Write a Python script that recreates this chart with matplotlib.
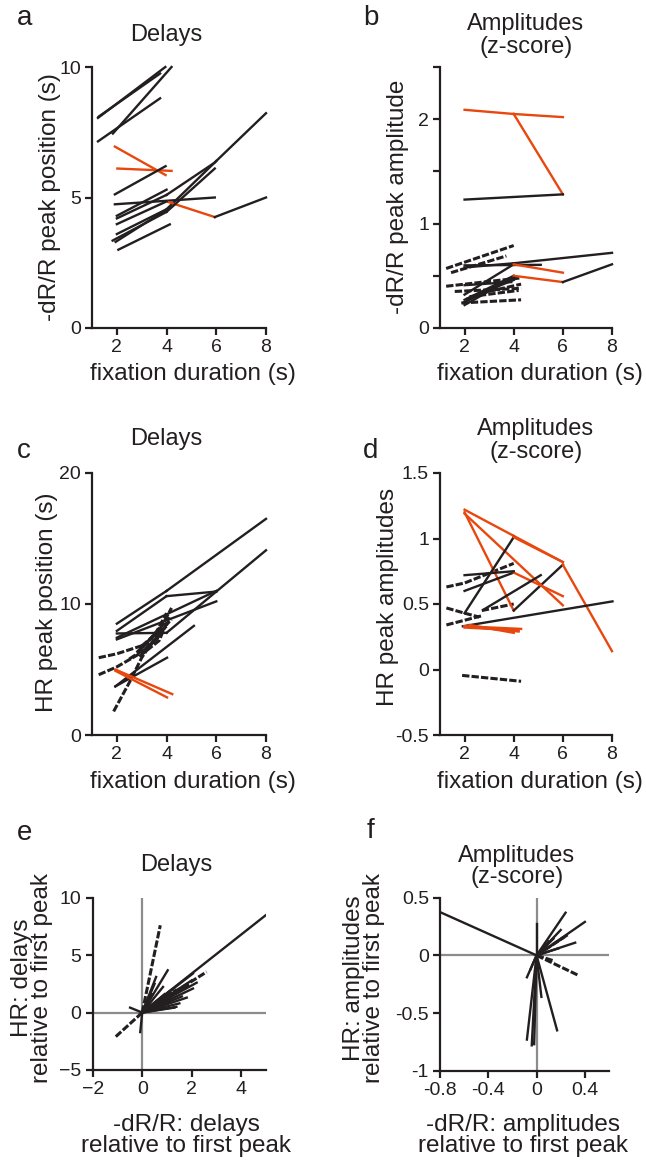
"""
Peak delays / amplitudes vs fixation duration, panels a-f
"""
import matplotlib

matplotlib.use("Agg")
import matplotlib.pyplot as plt

plt.rcParams["font.family"] = ["Liberation Sans", "DejaVu Sans"]

BLACK = "#231f20"
ORANGE = "#e8470e"
GREY = "#8c8c8c"

# ---- data ----
# panel a: -dR/R peak position per subject (x = fixation duration)
A_LINES = [
    ([1.27, 3.74], [8.10, 9.75]),
    ([1.24, 3.95], [8.05, 10.0]),
    ([1.24, 3.74], [7.15, 8.80]),
    ([1.84, 4.20], [7.45, 10.0]),
    ([1.92, 3.96], [6.95, 5.86]),
    ([2.02, 4.20], [6.11, 6.02]),
    ([1.92, 3.96], [5.12, 6.20]),
    ([1.92, 5.94], [4.74, 5.00]),
    ([2.0, 4.0, 5.94], [4.20, 5.10, 6.34]),
    ([2.0, 4.0, 6.0, 8.0], [3.60, 4.55, 6.40, 8.23]),
    ([4.06, 5.94, 8.0], [4.83, 4.25, 5.00]),
    ([2.06, 4.13], [3.00, 3.97]),
    ([1.83, 4.0, 5.94], [3.35, 4.45, 6.11]),
    ([2.0, 4.0], [3.98, 4.85]),
    ([2.0, 4.0], [4.30, 5.30]),
    ([1.95, 4.1], [3.30, 4.60]),
]
A_DASHED = []

# panel b: -dR/R peak amplitude (z-score)
B_LINES = [
    ([2.0, 4.0, 6.0], [2.09, 2.05, 1.28]),
    ([4.0, 6.0], [2.05, 2.02]),
    ([2.0, 6.0], [1.23, 1.28]),
    ([2.0, 4.0, 8.0], [0.58, 0.62, 0.72]),
    ([2.0, 5.1], [0.60, 0.605]),
    ([2.0, 4.0, 6.0], [0.32, 0.61, 0.53]),
    ([2.0, 4.0, 6.0, 8.0], [0.27, 0.50, 0.44, 0.61]),
    ([1.93, 4.0], [0.24, 0.48]),
    ([2.0, 3.9], [0.41, 0.44]),
    ([2.0, 3.5], [0.22, 0.42]),
    ([2.1, 4.0], [0.28, 0.46]),
]
B_DASHED = [
    ([1.25, 4.0], [0.57, 0.79]),
    ([1.45, 3.7], [0.53, 0.69]),
    ([1.25, 4.3], [0.40, 0.48]),
    ([1.6, 4.3], [0.35, 0.38]),
    ([1.87, 4.3], [0.24, 0.27]),
    ([2.2, 4.2], [0.30, 0.36]),
    ([2.6, 4.3], [0.33, 0.42]),
]

# panel c: HR peak position
C_LINES = [
    ([2.0, 4.0, 8.0], [8.5, 11.0, 16.5]),
    ([2.0, 4.0, 6.0, 8.0], [7.95, 10.6, 10.95, 14.1]),
    ([2.0, 6.0], [7.3, 10.2]),
    ([2.0, 4.0, 6.0], [7.75, 7.8, 10.95]),
    ([2.0, 6.0], [7.43, 11.0]),
    ([1.94, 5.1], [3.71, 8.33]),
    ([1.94, 4.02], [3.71, 5.9]),
    ([1.94, 4.23], [5.0, 3.12]),
    ([1.94, 4.02], [4.9, 2.87]),
]
C_DASHED = [
    ([1.27, 2.0, 2.75, 3.3], [5.9, 6.2, 6.66, 7.0]),
    ([1.27, 2.0, 3.0, 3.6, 4.1], [4.6, 5.2, 6.3, 7.3, 8.7]),
    ([1.87, 2.5, 3.0, 3.6, 4.2], [1.8, 4.0, 5.9, 7.6, 9.7]),
    ([2.8, 3.5, 4.2], [6.3, 7.6, 8.8]),
    ([3.0, 3.6, 4.0], [6.6, 7.9, 9.3]),
    ([2.5, 3.3, 3.9], [5.8, 6.8, 8.1]),
    ([3.0, 3.5, 4.0], [6.8, 7.6, 8.3]),
    ([3.2, 3.8], [6.5, 7.8]),
    ([2.9, 3.7, 4.1], [6.0, 7.2, 9.0]),
    ([3.3, 3.9], [7.2, 8.6]),
]

# panel d: HR peak amplitudes (z-score)
D_LINES = [
    ([2.0, 4.0, 6.0], [1.22, 1.02, 0.82]),
    ([2.0, 4.0, 6.0, 8.0], [1.20, 0.45, 0.80, 0.14]),
    ([2.0, 6.0], [1.19, 0.49]),
    ([2.0, 4.0, 6.0], [0.43, 1.01, 0.82]),
    ([2.0, 4.0, 6.0], [0.60, 0.74, 0.56]),
    ([2.0, 4.0], [0.72, 0.75]),
    ([2.8, 5.1], [0.46, 0.72]),
    ([1.93, 8.02], [0.33, 0.52]),
    ([2.0, 4.2], [0.33, 0.29]),
    ([2.0, 4.2], [0.32, 0.30]),
    ([2.2, 4.0], [0.34, 0.28]),
    ([2.0, 4.3], [0.33, 0.31]),
]
D_DASHED = [
    ([1.26, 2.0, 4.0], [0.63, 0.66, 0.81]),
    ([1.26, 2.0, 2.6], [0.47, 0.43, 0.40]),
    ([2.7, 4.0], [0.45, 0.50]),
    ([1.26, 2.7], [0.34, 0.41]),
    ([1.9, 4.3], [-0.045, -0.09]),
]

# panel e: delays relative to first peak (-dR/R vs HR), lines from origin
E_DX = [4.98, 1.03, 2.05, 1.30, 2.05, -0.49, -0.08, 1.45, 0.84, 0.56, 1.38, 2.0, 1.6,
        1.0, 0.4, 0.9, 1.7, 2.2, 1.2, 0.7, 1.8, 1.1, 0.5, 0.3, 1.5]
E_DY = [8.46, 3.68, 2.09, 0.43, 3.40, 0.43, -1.70, 1.95, 2.23, 3.10, 0.50, 2.8, 1.4,
        1.1, 1.6, 1.6, 2.2, 2.6, 2.0, 1.1, 1.3, 0.9, 2.5, 1.5, 0.8]
E_DASH_DX = [0.73, 2.60, -1.07, 1.9, 1.4, 1.1]
E_DASH_DY = [7.60, 3.54, -2.10, 2.4, 2.0, 1.5]

# panel f: amplitudes relative to first peak
F_DX = [-0.81, 0.24, 0.40, 0.32, 0.25, 0.17, -0.04, -0.08, -0.02, 0.04, -0.08, 0.0, 0.14, 0.18,
        0.2, 0.1, -0.05]
F_DY = [0.38, 0.37, 0.29, 0.11, 0.17, -0.65, -0.78, -0.73, -0.77, -0.36, -0.19, 0.27, 0.145, 0.06,
        0.22, 0.12, -0.12]
F_DASH_DX = [0.34, 0.23, 0.15]
F_DASH_DY = [-0.17, 0.16, -0.05]

W, H = 646, 1160
fig = plt.figure(figsize=(W / 100, H / 100), dpi=100)


def add_ax(left, top, right, bottom):
    return fig.add_axes([left / W, 1 - bottom / H, (right - left) / W, (bottom - top) / H])


def ftext(x, y, s, **kw):
    kw.setdefault("color", BLACK)
    fig.text(x / W, 1 - y / H, s, **kw)


def style(ax, xlim, ylim, xticks, yticks, xlabels=None, ylabels=None):
    for side in ("top", "right"):
        ax.spines[side].set_visible(False)
    for side in ("left", "bottom"):
        ax.spines[side].set_linewidth(1.6)
        ax.spines[side].set_color(BLACK)
    ax.set_xlim(*xlim)
    ax.set_ylim(*ylim)
    ax.set_xticks(xticks)
    ax.set_yticks(yticks)
    if xlabels is not None:
        ax.set_xticklabels(xlabels)
    if ylabels is not None:
        ax.set_yticklabels(ylabels)
    ax.tick_params(direction="out", length=5, width=1.6, color=BLACK,
                   labelsize=14, labelcolor=BLACK, pad=3)


DASH = (0, (2.4, 0.7))


def draw_subjects(ax, lines, dashed):
    for xs, ys in dashed:
        ax.plot(xs, ys, color=BLACK, lw=2.2, ls=DASH, clip_on=False)
    for xs, ys in lines:
        for i in range(len(xs) - 1):
            c = ORANGE if ys[i + 1] < ys[i] else BLACK
            ax.plot(xs[i:i + 2], ys[i:i + 2], color=c, lw=1.7, clip_on=False)


def draw_rays(ax, dx, dy, ddx, ddy):
    ax.axhline(0, color=GREY, lw=1.6, zorder=1)
    ax.axvline(0, color=GREY, lw=1.6, zorder=1)
    for x, y in zip(ddx, ddy):
        ax.plot([0, x], [0, y], color=BLACK, lw=2.2, ls=DASH, zorder=2)
    for x, y in zip(dx, dy):
        ax.plot([0, x], [0, y], color=BLACK, lw=1.7, zorder=3)


dur_ticks = [2, 4, 6, 8]

# a
ax = add_ax(92, 67, 266, 328)
style(ax, (1, 8), (0, 10), dur_ticks, [0, 5, 10])
draw_subjects(ax, A_LINES, A_DASHED)
ftext(17, 25, "a", fontsize=20)
ftext(166, 41, "Delays", fontsize=17, ha="center")
ftext(193, 380, "fixation duration (s)", fontsize=17.5, ha="center")
ftext(50, 197, "-dR/R peak position (s)", fontsize=17.5, ha="center", va="center", rotation=90)

# b
ax = add_ax(440, 67, 612, 328)
style(ax, (1, 8), (0, 2.5), dur_ticks, [0, 0.5, 1, 1.5, 2, 2.5],
      ylabels=["0", "", "1", "", "2", ""])
draw_subjects(ax, B_LINES, B_DASHED)
ftext(363, 25, "b", fontsize=20)
ftext(526, 53, "Amplitudes\n(z-score)", fontsize=17, ha="center", linespacing=1.05)
ftext(540, 380, "fixation duration (s)", fontsize=17.5, ha="center")
ftext(398, 197, "-dR/R peak amplitude", fontsize=17.5, ha="center", va="center", rotation=90)

# c
ax = add_ax(92, 473, 266, 735)
style(ax, (1, 8), (0, 20), dur_ticks, [0, 10, 20])
draw_subjects(ax, C_LINES, C_DASHED)
ftext(17, 458, "c", fontsize=20)
ftext(166, 445, "Delays", fontsize=17, ha="center")
ftext(193, 788, "fixation duration (s)", fontsize=17.5, ha="center")
ftext(47, 602, "HR peak position (s)", fontsize=17.5, ha="center", va="center", rotation=90)

# d
ax = add_ax(440, 473, 612, 735)
style(ax, (1, 8), (-0.5, 1.5), dur_ticks, [-0.5, 0, 0.5, 1, 1.5],
      ylabels=["-0.5", "0", "0.5", "1", "1.5"])
draw_subjects(ax, D_LINES, D_DASHED)
ftext(363, 458, "d", fontsize=20)
ftext(536, 458, "Amplitudes\n(z-score)", fontsize=17, ha="center", linespacing=1.05)
ftext(540, 788, "fixation duration (s)", fontsize=17.5, ha="center")
ftext(388, 597, "HR peak amplitudes", fontsize=17.5, ha="center", va="center", rotation=90)

# e
ax = add_ax(92.7, 897.7, 266, 1070)
style(ax, (-2, 5), (-5, 10), [-2, 0, 2, 4], [-5, 0, 5, 10])
draw_rays(ax, E_DX, E_DY, E_DASH_DX, E_DASH_DY)
ftext(17, 840, "e", fontsize=20)
ftext(176, 871, "Delays", fontsize=17, ha="center")
ftext(186, 1152, "-dR/R: delays\nrelative to first peak", fontsize=17.5,
      ha="center", linespacing=0.92)
ftext(32, 978, "HR: delays\nrelative to first peak", fontsize=17.5,
      ha="center", va="center", rotation=90, linespacing=0.9)

# f
ax = add_ax(440, 897.7, 609, 1070.7)
style(ax, (-0.8, 0.6), (-1, 0.5), [-0.8, -0.4, 0, 0.4], [-1, -0.5, 0, 0.5],
      xlabels=["-0.8", "-0.4", "0", "0.4"], ylabels=["-1", "-0.5", "0", "0.5"])
draw_rays(ax, F_DX, F_DY, F_DASH_DX, F_DASH_DY)
ftext(367, 838, "f", fontsize=20)
ftext(517, 883, "Amplitudes\n(z-score)", fontsize=17, ha="center", linespacing=0.95)
ftext(523, 1152, "-dR/R: amplitudes\nrelative to first peak", fontsize=17.5,
      ha="center", linespacing=0.92)
ftext(364, 978, "HR: amplitudes\nrelative to first peak", fontsize=17.5,
      ha="center", va="center", rotation=90, linespacing=0.9)

fig.savefig("out.png", dpi=100)
